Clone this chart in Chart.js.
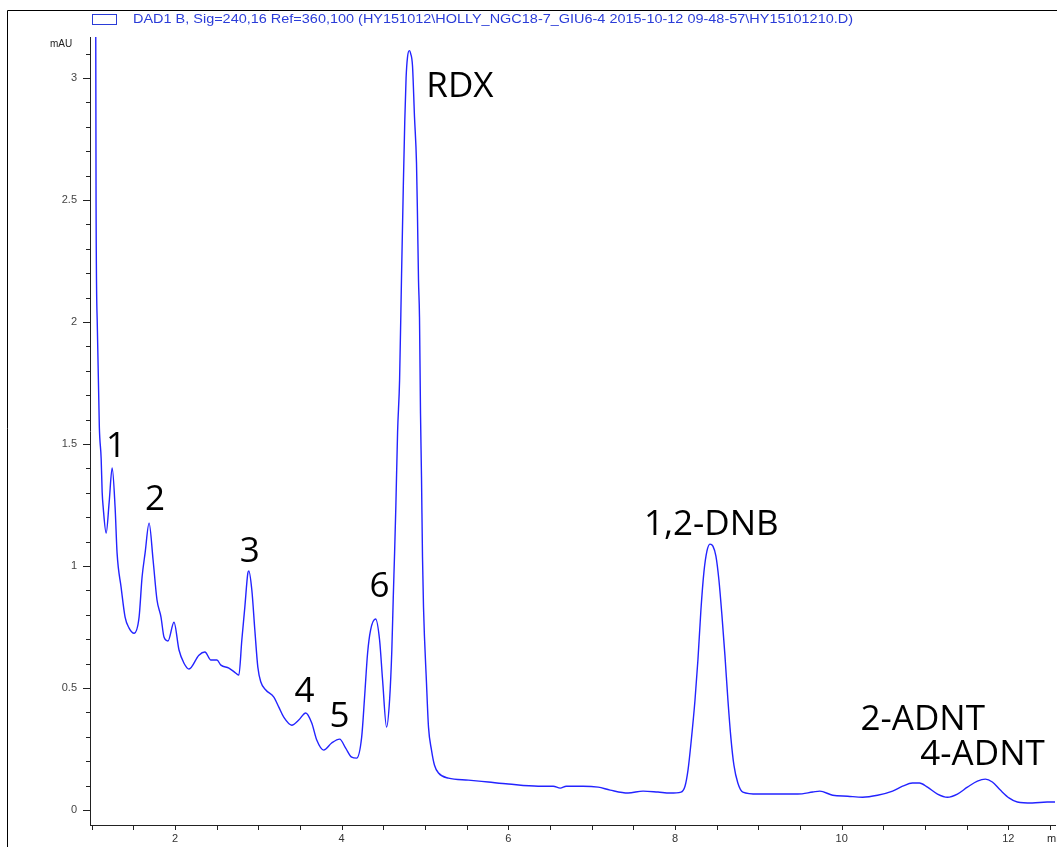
<!DOCTYPE html>
<html>
<head>
<meta charset="utf-8">
<script src="https://cdn.jsdelivr.net/npm/chart.js@4.4.1/dist/chart.umd.min.js"></script>
<style>
  body { margin: 0; background: #fff; }
  canvas { display: block; }
</style>
</head>
<body>
<canvas id="chart" width="1057" height="847"></canvas>
<script>
// retention time (min) and signal (mAU)
var times = [
  1.048, 1.053, 1.068, 1.092, 1.114, 1.126, 1.138, 1.174, 1.210, 1.246,
  1.281, 1.305, 1.353, 1.401, 1.449, 1.509, 1.569, 1.605, 1.641, 1.689,
  1.737, 1.784, 1.832, 1.868, 1.916, 1.988, 2.048, 2.108, 2.168, 2.287,
  2.359, 2.431, 2.503, 2.551, 2.647, 2.731, 2.766, 2.802, 2.838, 2.874,
  2.886, 2.922, 2.958, 2.994, 3.030, 3.090, 3.186, 3.246, 3.305, 3.401,
  3.485, 3.569, 3.641, 3.701, 3.784, 3.880, 3.976, 4.048, 4.120, 4.180,
  4.240, 4.275, 4.311, 4.347, 4.407, 4.455, 4.491, 4.539, 4.575, 4.602,
  4.619, 4.635, 4.650, 4.671, 4.695, 4.719, 4.740, 4.757, 4.773, 4.790,
  4.812, 4.828, 4.850, 4.874, 4.898, 4.910, 4.922, 4.934, 4.946, 4.958,
  4.970, 4.982, 5.018, 5.042, 5.078, 5.114, 5.162, 5.281, 5.521, 5.760,
  6.000, 6.359, 6.539, 6.623, 6.695, 6.898, 7.078, 7.222, 7.437, 7.617,
  7.796, 7.940, 8.072, 8.120, 8.156, 8.192, 8.240, 8.275, 8.311, 8.347,
  8.383, 8.419, 8.455, 8.491, 8.527, 8.563, 8.599, 8.635, 8.671, 8.707,
  8.754, 8.814, 8.994, 9.234, 9.473, 9.653, 9.737, 9.892, 10.072, 10.251,
  10.431, 10.611, 10.731, 10.850, 10.934, 11.030, 11.150, 11.269, 11.389, 11.509,
  11.629, 11.725, 11.808, 11.904, 12.012, 12.108, 12.287, 12.467, 12.563
];
var signal = [
  3.40, 2.47, 1.98, 1.57, 1.44, 1.303, 1.242, 1.135, 1.262, 1.402,
  1.242, 1.053, 0.914, 0.791, 0.746, 0.725, 0.791, 0.955, 1.053, 1.176,
  1.025, 0.861, 0.791, 0.709, 0.693, 0.770, 0.656, 0.602, 0.578, 0.635,
  0.648, 0.615, 0.615, 0.594, 0.582, 0.561, 0.553, 0.697, 0.832, 0.971,
  0.980, 0.902, 0.738, 0.586, 0.525, 0.492, 0.463, 0.422, 0.381, 0.348,
  0.369, 0.398, 0.357, 0.287, 0.246, 0.275, 0.291, 0.254, 0.217, 0.213,
  0.299, 0.463, 0.643, 0.738, 0.783, 0.697, 0.533, 0.340, 0.451, 0.656,
  0.869, 1.053, 1.242, 1.549, 1.762, 2.200, 2.560, 2.820, 3.000, 3.085,
  3.112, 3.100, 3.050, 2.840, 2.652, 2.430, 2.172, 2.020, 1.627, 1.365,
  1.037, 0.832, 0.520, 0.340, 0.246, 0.184, 0.152, 0.131, 0.123, 0.115,
  0.107, 0.098, 0.098, 0.090, 0.098, 0.098, 0.094, 0.082, 0.070, 0.078,
  0.074, 0.070, 0.074, 0.098, 0.164, 0.275, 0.451, 0.615, 0.820, 0.975,
  1.061, 1.090, 1.082, 1.041, 0.943, 0.799, 0.635, 0.451, 0.295, 0.184,
  0.111, 0.074, 0.066, 0.066, 0.066, 0.074, 0.078, 0.061, 0.057, 0.053,
  0.061, 0.078, 0.098, 0.111, 0.111, 0.094, 0.066, 0.053, 0.066, 0.094,
  0.119, 0.127, 0.115, 0.082, 0.049, 0.033, 0.029, 0.033, 0.033
];

// peak names and where their text sits (left edge / baseline, in axis units)
var peakNames = ['1', '2', '3', '4', '5', '6', 'RDX', '1,2-DNB', '2-ADNT', '4-ADNT'];
var peakLabelX = [1.172, 1.639, 2.776, 3.435, 3.854, 4.333, 5.016, 7.627, 10.226, 10.944];
var peakLabelY = [1.447, 1.230, 1.016, 0.443, 0.340, 0.873, 2.922, 1.127, 0.328, 0.185];

var xLabels = [2, 4, 6, 8, 10, 12];
var yLabels = [0, 0.5, 1, 1.5, 2, 2.5, 3];

var legendText = 'DAD1 B, Sig=240,16 Ref=360,100 (HY151012\\HOLLY_NGC18-7_GIU6-4 2015-10-12 09-48-57\\HY15101210.D)';

var points = times.map(function(t, i) { return {x: t, y: signal[i]}; });

function stepTicks(from, to, step) {
  var out = [];
  for (var v = from; v <= to + 1e-9; v += step) out.push({value: Math.round(v * 100) / 100});
  return out;
}

var decor = {
  id: 'decor',
  afterDraw: function(chart) {
    var ctx = chart.ctx;
    var xs = chart.scales.x, ys = chart.scales.y;
    var area = chart.chartArea;
    ctx.save();

    // outer frame
    ctx.strokeStyle = '#000';
    ctx.lineWidth = 1;
    ctx.beginPath();
    ctx.moveTo(7.5, 847);
    ctx.lineTo(7.5, 10.5);
    ctx.lineTo(1057, 10.5);
    ctx.stroke();

    // legend
    ctx.strokeStyle = '#2a3cd8';
    ctx.strokeRect(92.5, 14.5, 24, 10);
    ctx.fillStyle = '#2a3cd8';
    ctx.font = '12px "Liberation Sans", Arial, sans-serif';
    ctx.textBaseline = 'middle';
    ctx.textAlign = 'left';
    var w = ctx.measureText(legendText).width;
    ctx.save();
    ctx.translate(133, 20);
    ctx.scale(720 / w, 1);
    ctx.fillText(legendText, 0, 0);
    ctx.restore();

    // unit labels
    ctx.fillStyle = '#222';
    ctx.font = '10px "Liberation Sans", Arial, sans-serif';
    ctx.fillText('mAU', 50, 44);
    ctx.font = '11px "Liberation Sans", Arial, sans-serif';
    ctx.fillText('min', 1047, 839);

    // tick marks
    ctx.strokeStyle = '#222';
    ctx.beginPath();
    ys.ticks.forEach(function(t) {
      var py = Math.round(ys.getPixelForValue(t.value)) + 0.5;
      var major = Math.abs(t.value * 2 - Math.round(t.value * 2)) < 1e-6;
      ctx.moveTo(area.left, py);
      ctx.lineTo(area.left - (major ? 7 : 4), py);
    });
    xs.ticks.forEach(function(t) {
      var px = Math.round(xs.getPixelForValue(t.value)) + 0.5;
      ctx.moveTo(px, area.bottom);
      ctx.lineTo(px, area.bottom + 5);
    });
    ctx.stroke();

    // peak names
    ctx.fillStyle = '#000';
    ctx.font = '35px "Open Sans", "Noto Sans", sans-serif';
    ctx.textBaseline = 'alphabetic';
    peakNames.forEach(function(name, i) {
      ctx.fillText(name, xs.getPixelForValue(peakLabelX[i]), ys.getPixelForValue(peakLabelY[i]));
    });
    ctx.restore();
  }
};

var ctx = document.getElementById('chart').getContext('2d');
var myChart = new Chart(ctx, {
  type: 'line',
  data: {
    datasets: [{
      label: 'DAD1 B',
      data: points,
      borderColor: 'rgb(35, 35, 255)',
      borderWidth: 1.4,
      pointRadius: 0,
      cubicInterpolationMode: 'monotone',
      fill: false
    }]
  },
  options: {
    responsive: false,
    animation: false,
    devicePixelRatio: 1,
    layout: {padding: {top: 37, left: 0, right: 0, bottom: 0}},
    plugins: {legend: {display: false}, tooltip: {enabled: false}},
    scales: {
      x: {
        type: 'linear',
        min: 0.98,
        max: 12.56,
        grid: {display: false, drawTicks: false},
        border: {display: true, color: '#222', width: 1},
        afterBuildTicks: function(scale) { scale.ticks = stepTicks(1, 12.5, 0.5); },
        afterFit: function(scale) { scale.height = 22; },
        ticks: {
          autoSkip: false,
          maxRotation: 0,
          padding: 7,
          color: '#333',
          font: {family: '"Liberation Sans", Arial, sans-serif', size: 11},
          callback: function(v) { return xLabels.indexOf(v) >= 0 ? String(v) : ''; }
        }
      },
      y: {
        min: -0.061,
        max: 3.168,
        grid: {display: false, drawTicks: false},
        border: {display: true, color: '#222', width: 1},
        afterBuildTicks: function(scale) { scale.ticks = stepTicks(0, 3.1, 0.1); },
        afterFit: function(scale) { scale.width = 90; },
        ticks: {
          autoSkip: false,
          padding: 13,
          color: '#444',
          font: {family: '"Liberation Sans", Arial, sans-serif', size: 11},
          callback: function(v) { return yLabels.indexOf(v) >= 0 ? String(v) : ''; }
        }
      }
    }
  },
  plugins: [decor]
});
</script>
</body>
</html>
